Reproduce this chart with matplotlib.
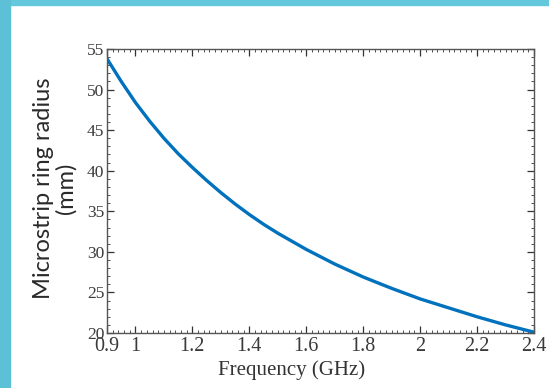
import matplotlib.pyplot as plt
from matplotlib.patches import Rectangle
from matplotlib.ticker import MultipleLocator

# values
freq_ghz = [0.9, 0.95, 1.0, 1.05, 1.1, 1.15, 1.2, 1.25, 1.3, 1.35, 1.4, 1.45, 1.5, 1.55,
            1.6, 1.65, 1.7, 1.75, 1.8, 1.85, 1.9, 1.95, 2.0, 2.05, 2.1, 2.15, 2.2, 2.25,
            2.3, 2.35, 2.4]
radius_mm = [53.8, 51.0, 48.4, 46.1, 44.0, 42.1, 40.4, 38.8, 37.3, 35.9, 34.6, 33.4, 32.3,
             31.3, 30.3, 29.4, 28.5, 27.7, 26.9, 26.2, 25.5, 24.85, 24.2, 23.65, 23.1, 22.55,
             22.0, 21.5, 21.0, 20.55, 20.1]

x_ticks = [0.9, 1, 1.2, 1.4, 1.6, 1.8, 2, 2.2, 2.4]
x_tick_labels = ["0.9", "1", "1.2", "1.4", "1.6", "1.8", "2", "2.2", "2.4"]
y_ticks = [20, 25, 30, 35, 40, 45, 50, 55]

fig = plt.figure(figsize=(5.49, 3.88), dpi=100)

# cyan slide frame on top and left
fig.patches.append(Rectangle((0, 1 - 5 / 388), 1, 5 / 388, transform=fig.transFigure,
                             color="#64C8DC", zorder=0))
fig.patches.append(Rectangle((0, 0), 10 / 549, 1, transform=fig.transFigure,
                             color="#5CC0D6", zorder=0))

ax = fig.add_axes([107 / 549, 1 - 333 / 388, 427 / 549, 284 / 388])
ax.plot(freq_ghz, radius_mm, color="#0072BD", linewidth=2.4, solid_capstyle="round")

ax.set_xlim(0.9, 2.4)
ax.set_ylim(20, 55)
ax.set_xticks(x_ticks)
ax.set_xticklabels(x_tick_labels)
ax.set_yticks(y_ticks)
ax.xaxis.set_minor_locator(MultipleLocator(0.02))
ax.yaxis.set_minor_locator(MultipleLocator(1))

ax.tick_params(which="both", direction="in", top=True, right=True, colors="#333333")
ax.tick_params(which="major", length=5, width=0.9)
ax.tick_params(which="minor", length=2.5, width=0.6)
ax.tick_params(axis="x", which="major", pad=3)
ax.tick_params(axis="y", which="major", pad=2)
for lbl in ax.get_xticklabels() + ax.get_yticklabels():
    lbl.set_family("Liberation Serif")
    lbl.set_color("#3a3a3a")
for lbl in ax.get_xticklabels():
    lbl.set_fontsize(14.5)
for lbl in ax.get_yticklabels():
    lbl.set_fontsize(12.5)
for sp in ax.spines.values():
    sp.set_color("#555555")
    sp.set_linewidth(1.0)

ax.set_xlabel("Frequency (GHz)", family="Liberation Serif", fontsize=15, color="#333333")
ax.xaxis.set_label_coords(0.433, -0.095)
ax.set_ylabel("Microstrip ring radius\n(mm)", family="Lato", fontsize=17,
              color="#2a2a2a", linespacing=1.05)
ax.yaxis.set_label_coords(-0.072, 0.51)

fig.savefig("out.png", dpi=100)
